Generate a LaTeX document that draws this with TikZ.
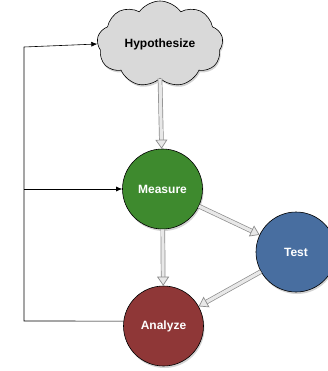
\documentclass[tikz,border=0pt]{standalone}
\usepackage{fontspec}
\setmainfont{Liberation Sans}
\usetikzlibrary{shapes.symbols,shadows,arrows.meta}
\definecolor{cloudgray}{RGB}{217,217,217}
\definecolor{mgreen}{RGB}{62,138,46}
\definecolor{tblue}{RGB}{72,110,160}
\definecolor{ared}{RGB}{143,55,55}
\definecolor{dblline}{RGB}{140,140,140}
\definecolor{dblfill}{RGB}{232,232,232}
\tikzset{
  stepcircle/.style={circle, draw=black, line width=0.6pt, minimum size=80pt, inner sep=0pt,
    font=\bfseries\fontsize{12}{14}\selectfont, text=white,
    drop shadow={shadow xshift=1pt, shadow yshift=-2pt, opacity=0.35}},
  flow/.style={draw=dblline, line width=0.7pt, double=dblfill, double distance=3.2pt,
    -{Triangle[open, length=9pt, width=12pt, fill=dblfill]}},
  link/.style={draw=black, line width=0.6pt},
  linkarrow/.style={link, -{Latex[length=6pt, width=5pt]}}
}
\begin{document}
\begin{tikzpicture}[x=1pt, y=-1pt]
\useasboundingbox (0,0) rectangle (327,371);
\node[cloud, cloud puffs=9, cloud puff arc=110, aspect=1.45, draw=black, line width=0.6pt,
  fill=cloudgray, minimum width=126pt, minimum height=86pt, inner sep=0pt,
  font=\bfseries\fontsize{12}{14}\selectfont,
  drop shadow={shadow xshift=1pt, shadow yshift=-2pt, opacity=0.35}] (hyp) at (160,44) {Hypothesize};
\node[stepcircle, fill=mgreen] (me) at (162.5,189) {Measure};
\node[stepcircle, fill=tblue] (te) at (296,252) {Test};
\node[stepcircle, fill=ared] (an) at (163.5,326) {Analyze};
\draw[flow] (hyp.south) -- (me);
\draw[flow] (me) -- (te);
\draw[flow] (me) -- (an);
\draw[flow] (te) -- (an);
\coordinate (bl) at (24,321);
\coordinate (tl) at (24,47);
\draw[link] (an.173) -- (bl) -- (tl);
\draw[linkarrow] (tl) -- (hyp.west);
\draw[linkarrow] (bl |- me.west) -- (me.west);
\end{tikzpicture}
\end{document}
